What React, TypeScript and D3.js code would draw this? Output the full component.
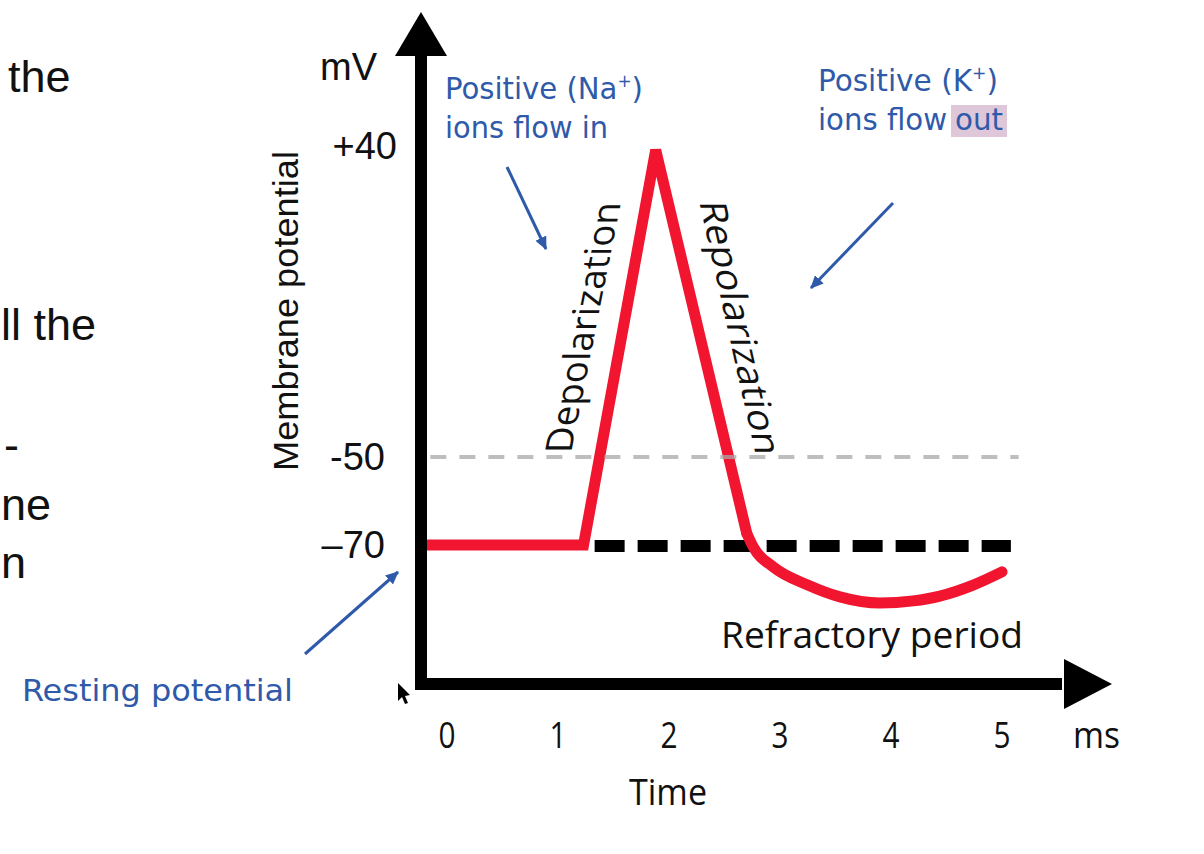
import React from 'react';
import * as d3 from 'd3';

// membrane potential trace (ms, mV)
const SPIKE_T = [-0.17, 1.23, 1.88, 2.7];
const SPIKE_MV = [-70, -70, 40, -67.3];
const AHP_T = [2.7, 2.76, 2.94, 3.25, 3.54, 3.9, 4.2, 4.44, 4.74, 5.0];
const AHP_MV = [-67.3, -70.5, -75, -79.1, -81.8, -83.2, -82.7, -81.6, -79.1, -76.1];

const X_TICKS = [0, 1, 2, 3, 4, 5];
const Y_TICKS = [40, -50, -70];
const Y_TICK_LABELS = ['+40', '-50', '\u201370'];

const THRESHOLD_MV = -50;
const THRESHOLD_SPAN = [-0.15, 5.15];
const RESTING_MV = -70;
const RESTING_SPAN = [1.33, 5.08];

const W = 1204;
const H = 854;

const SANS = "'Liberation Sans', Arial, sans-serif";
const CHART = "'Open Sans', 'Noto Sans', sans-serif";
const NOTE = "'DejaVu Sans Condensed', 'DejaVu Sans', sans-serif";
const BLUE = '#2f5aa9';
const RED = '#f2152f';

export default function App() {
  // the voltage axis is schematic: the bands between labels are not to scale
  const x = d3.scaleLinear().domain([0, 5]).range([447, 1002]);
  const y = d3.scaleLinear().domain([-70, -50, 40]).range([545, 457, 150]);

  const spike = d3
    .line<number>()
    .x((_, i) => x(SPIKE_T[i]))
    .y((_, i) => y(SPIKE_MV[i]))
    .curve(d3.curveLinear)(SPIKE_T);

  const ahp = d3
    .line<number>()
    .x((_, i) => x(AHP_T[i]))
    .y((_, i) => y(AHP_MV[i]))
    .curve(d3.curveMonotoneX)(AHP_T);

  const axisX = 421;
  const axisY = 684;

  return (
    <svg
      width={W}
      height={H}
      viewBox={`0 0 ${W} ${H}`}
      style={{ position: 'absolute', left: 0, top: 0, background: '#fff' }}
    >
      <defs>
        <marker
          id="blue-head"
          markerUnits="userSpaceOnUse"
          markerWidth="14"
          markerHeight="12"
          refX="12"
          refY="6"
          orient="auto"
        >
          <path d="M0,0 L13,6 L0,12 Z" fill={BLUE} />
        </marker>
      </defs>

      {/* slide text cut off at the left edge */}
      <g fontFamily={SANS} fontSize={45} fill="#111">
        <text x={8} y={92}>the</text>
        <text x={1} y={340}>ll the</text>
        <text x={4} y={460}>-</text>
        <text x={1} y={520}>ne</text>
        <text x={1} y={578}>n</text>
      </g>

      {/* resting level */}
      <line
        x1={x(RESTING_SPAN[0])}
        x2={x(RESTING_SPAN[1])}
        y1={y(RESTING_MV) + 1}
        y2={y(RESTING_MV) + 1}
        stroke="#000"
        strokeWidth={12}
        strokeDasharray="30 13"
      />

      {/* action potential */}
      <g fill="none" stroke={RED} strokeWidth={11} strokeLinecap="round">
        <path d={spike ?? ''} strokeLinejoin="miter" strokeMiterlimit={2} />
        <path d={ahp ?? ''} strokeLinejoin="round" />
      </g>

      {/* threshold */}
      <line
        x1={x(THRESHOLD_SPAN[0])}
        x2={x(THRESHOLD_SPAN[1])}
        y1={y(THRESHOLD_MV)}
        y2={y(THRESHOLD_MV)}
        stroke="#a8a8a8"
        strokeOpacity={0.75}
        strokeWidth={4}
        strokeDasharray="16 13"
      />

      {/* axes with arrow heads */}
      <g fill="#000">
        <rect x={axisX - 6} y={52} width={12} height={axisY + 6 - 52} />
        <polygon points={`${axisX},12 ${axisX + 26},56 ${axisX - 26},56`} />
        <rect x={axisX - 6} y={axisY - 6} width={1068 - axisX} height={12} />
        <polygon points={`1064,${axisY - 25} 1112,${axisY} 1064,${axisY + 25}`} />
        {/* mouse pointer */}
        <path d="M398,683 L398,701 L402,697 L405,704 L408,703 L405,696 L410,695 Z" />
      </g>

      {/* y axis */}
      <g fontFamily={SANS} fontSize={38} fill="#111">
        <text x={320} y={80}>mV</text>
        {Y_TICKS.map((v, i) => (
          <text key={v} x={v > 0 ? 397 : 385} y={y(v) + (v > 0 ? 9 : 13)} textAnchor="end">
            {Y_TICK_LABELS[i]}
          </text>
        ))}
        <text
          transform="translate(298,311) rotate(-90)"
          textAnchor="middle"
          fontSize={35}
          textLength={320}
          lengthAdjust="spacingAndGlyphs"
        >
          Membrane potential
        </text>
      </g>

      {/* x axis */}
      <g fontFamily={CHART} fontSize={37} fill="#111">
        {X_TICKS.map((t) => (
          <text
            key={t}
            x={x(t)}
            y={748}
            textAnchor="middle"
            textLength={17}
            lengthAdjust="spacingAndGlyphs"
          >
            {t}
          </text>
        ))}
        <text x={1073} y={748} textLength={47} lengthAdjust="spacingAndGlyphs">
          ms
        </text>
        <text x={629} y={805} textLength={78} lengthAdjust="spacingAndGlyphs">
          Time
        </text>
      </g>

      {/* phase labels: glyphs stand at a right angle, the baseline leans with the trace */}
      <g fontFamily={CHART} fontSize={37} fill="#111">
        <text
          transform="matrix(0.195,-0.98,1,0,571,453)"
          textLength={256}
          lengthAdjust="spacingAndGlyphs"
        >
          Depolarization
        </text>
        <text
          transform="matrix(0.218,0.977,-1,0,699,201)"
          textLength={260}
          lengthAdjust="spacingAndGlyphs"
        >
          Repolarization
        </text>
        <text x={721} y={648} textLength={302} lengthAdjust="spacingAndGlyphs">
          Refractory period
        </text>
      </g>

      {/* ion flow notes */}
      <rect x={951} y={105} width={56} height={32} fill="#ddc7d8" />
      <g fontFamily={NOTE} fontSize={31} fill={BLUE}>
        <text x={445} y={99} textLength={198} lengthAdjust="spacingAndGlyphs">
          Positive (Na
          <tspan fontSize={18} dy={-12}>+</tspan>
          <tspan dy={12}>)</tspan>
        </text>
        <text x={445} y={138} textLength={163} lengthAdjust="spacingAndGlyphs">
          ions flow in
        </text>
        <text x={818} y={91} textLength={180} lengthAdjust="spacingAndGlyphs">
          Positive (K
          <tspan fontSize={18} dy={-12}>+</tspan>
          <tspan dy={12}>)</tspan>
        </text>
        <text x={818} y={130} textLength={129} lengthAdjust="spacingAndGlyphs">
          ions flow
        </text>
        <text x={955} y={130} textLength={48} lengthAdjust="spacingAndGlyphs">
          out
        </text>
        <text x={22} y={701} textLength={271} lengthAdjust="spacingAndGlyphs">
          Resting potential
        </text>
      </g>

      <g stroke={BLUE} strokeWidth={3} markerEnd="url(#blue-head)">
        <line x1={507} y1={167} x2={546} y2={249} />
        <line x1={893} y1={203} x2={811} y2={288} />
        <line x1={305} y1={654} x2={398} y2={572} />
      </g>
    </svg>
  );
}
